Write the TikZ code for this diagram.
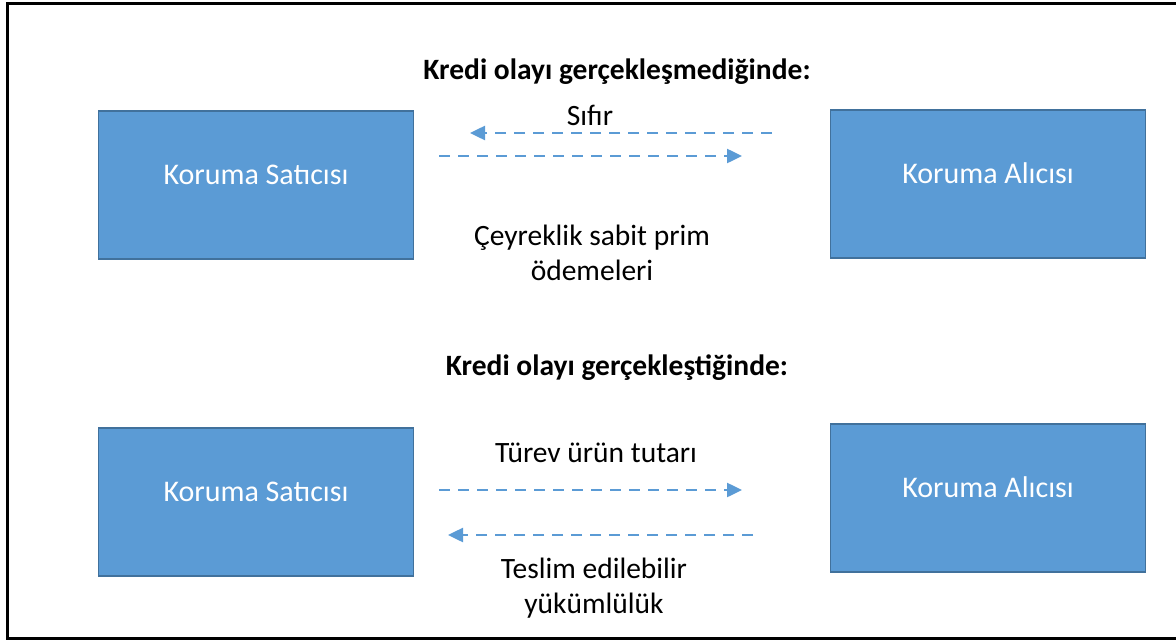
\documentclass[tikz,border=0pt]{standalone}
\usepackage{fontspec}
\setmainfont{Carlito}
\usepackage{tikz}
\usetikzlibrary{arrows.meta,positioning}
\definecolor{boxblue}{HTML}{5B9BD5}
\definecolor{boxedge}{HTML}{41719C}

\begin{document}
\begin{tikzpicture}[x=1pt, y=-1pt,
    party/.style={draw=boxedge, line width=1.5pt, fill=boxblue, text=white,
      minimum width=315pt, minimum height=148pt, inner sep=0pt,
      text height=20pt, text depth=22pt,
      font=\fontsize{30}{35}\selectfont},
    flow/.style={-{Triangle[length=15pt,width=14pt]}, draw=boxblue,
      line width=2.5pt, dash pattern=on 11pt off 8pt},
    lbl/.style={align=center, inner sep=0pt, font=\fontsize{29.5}{35}\selectfont},
    title/.style={inner sep=0pt, font=\bfseries\fontsize{29.5}{35}\selectfont}]
  \useasboundingbox (0,0) rectangle (1176,642);
  % Frame
  \draw[line width=3pt] (1176,4) -- (7,4) -- (7,638) -- (1176,638);
  % No credit event
  \node[title] (titleA) at (617,72) {Kredi olayı gerçekleşmediğinde:};
  \node[party] (sellerA) at (256,185) {Koruma Satıcısı};
  \node[party] (buyerA) at (988,184) {Koruma Alıcısı};
  \coordinate (zeroA) at (772,133);
  \coordinate (zeroB) at (470,133);
  \coordinate (premA) at (439,156);
  \coordinate (premB) at (742,156);
  \draw[flow] (zeroA) -- (zeroB);
  \draw[flow] (premA) -- (premB);
  \node[lbl] (zero) at (590,115) {Sıfır};
  \node[lbl] (prem) at (592,253) {Çeyreklik sabit prim\\ödemeleri};
  % Credit event
  \node[title] (titleB) at (617,368) {Kredi olayı gerçekleştiğinde:};
  \node[party] (sellerB) at (256,502) {Koruma Satıcısı};
  \node[party] (buyerB) at (988,498) {Koruma Alıcısı};
  \coordinate (notA) at (439,490);
  \coordinate (notB) at (742,490);
  \coordinate (delA) at (753,535);
  \coordinate (delB) at (448,535);
  \draw[flow] (notA) -- (notB);
  \draw[flow] (delA) -- (delB);
  \node[lbl] (notional) at (596,453) {Türev ürün tutarı};
  \node[lbl] (deliv) at (594,588) {Teslim edilebilir\\yükümlülük};
\end{tikzpicture}
\end{document}
